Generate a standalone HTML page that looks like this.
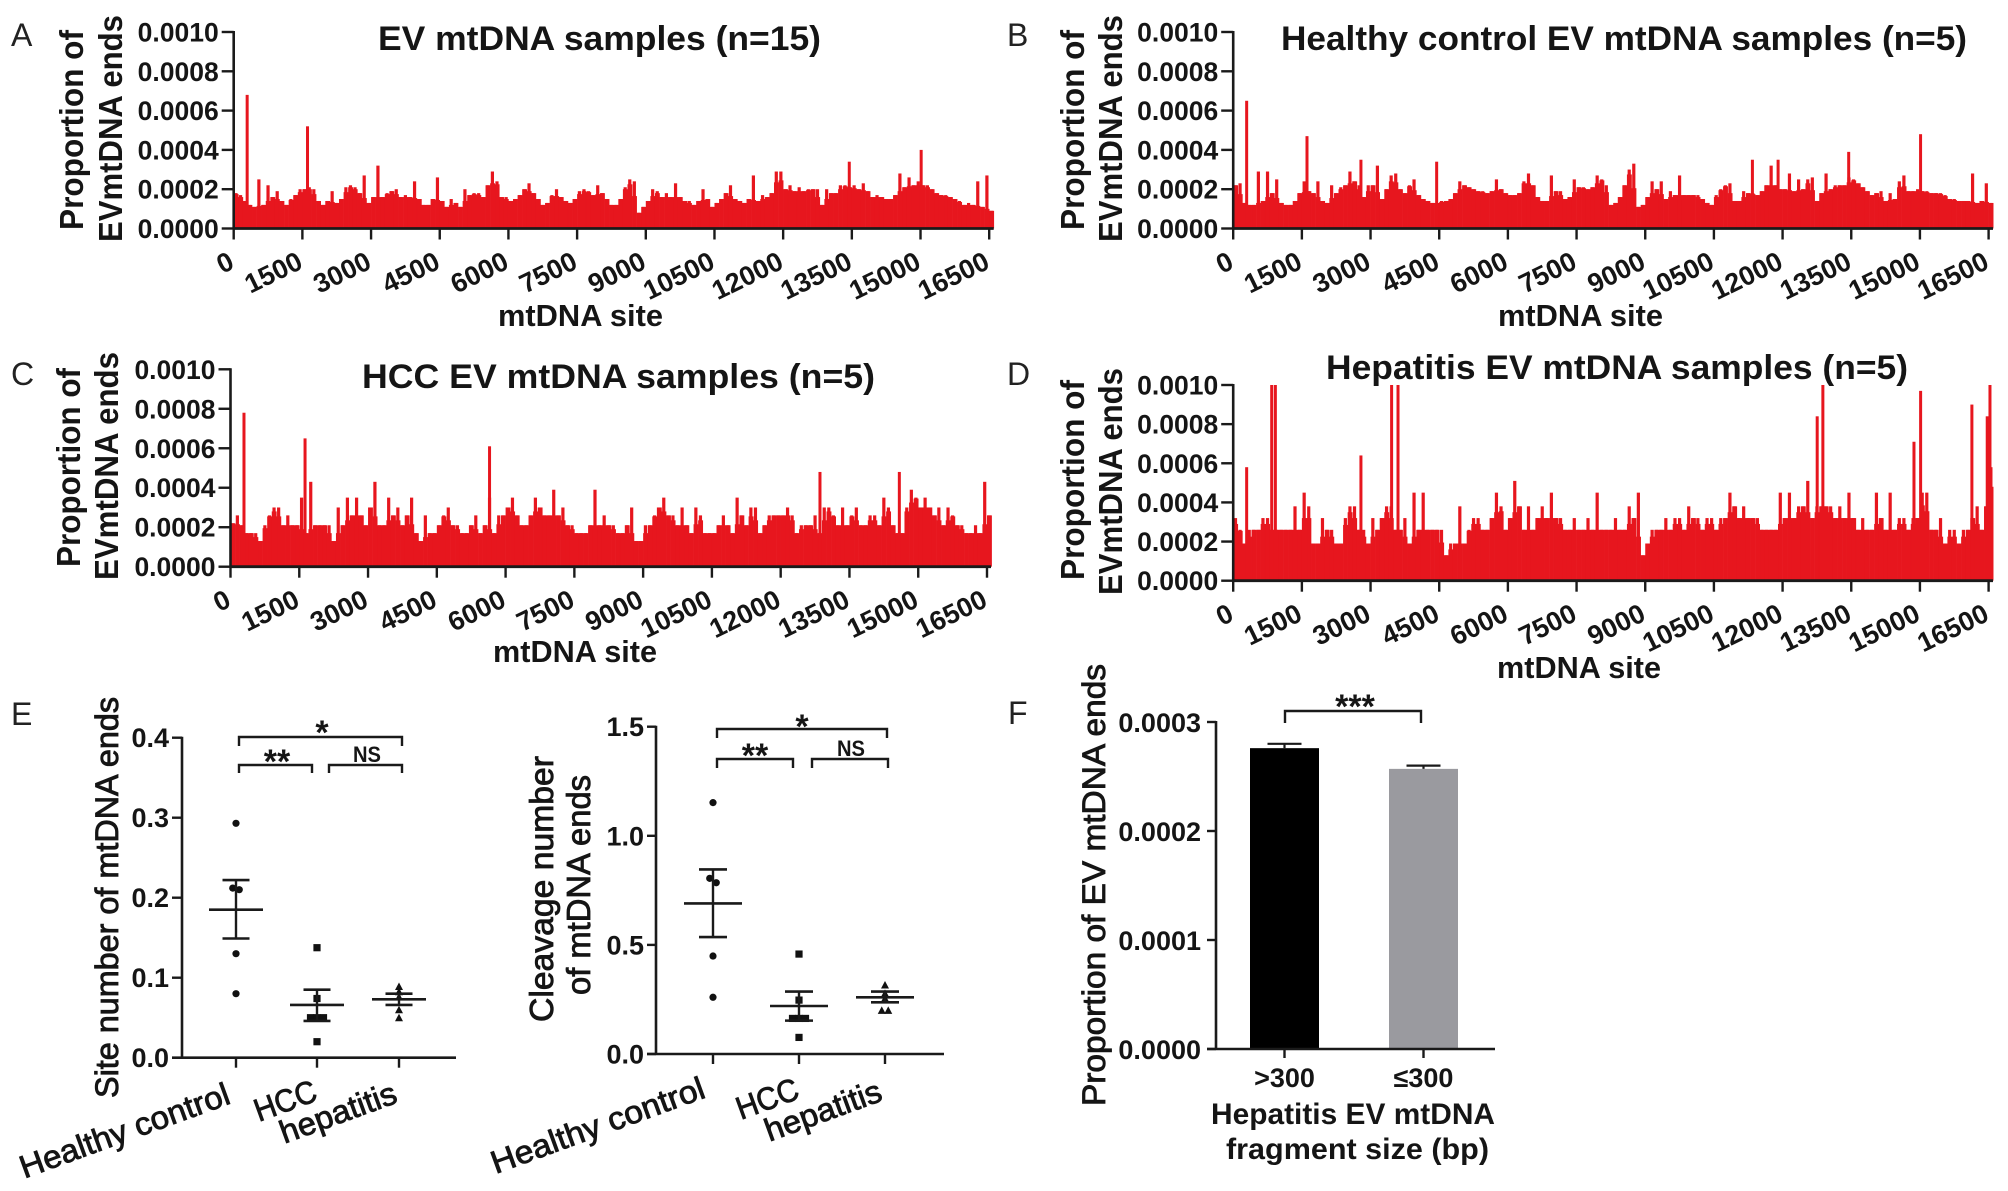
<!DOCTYPE html>
<html lang="en">
<head>
<meta charset="utf-8">
<title>EV mtDNA fragment end analysis</title>
<style>
html,body{margin:0;padding:0;background:#fff;}
svg{display:block;}
text{font-family:"Liberation Sans",sans-serif;fill:#151515;}
.b{font-weight:bold;}
.m{font-weight:normal;stroke:#151515;stroke-width:0.85px;}
.letter{font-size:32px;font-weight:normal;fill:#222;}
</style>
</head>
<body>
<svg id="figure" xmlns="http://www.w3.org/2000/svg" width="2008" height="1191" viewBox="0 0 2008 1191">
<rect x="0" y="0" width="2008" height="1191" fill="#fff"/>
<text class="letter" x="11" y="46">A</text>
<text class="letter" x="1007" y="46">B</text>
<text class="letter" x="11" y="385">C</text>
<text class="letter" x="1007" y="385">D</text>
<text class="letter" x="11" y="725">E</text>
<text class="letter" x="1008" y="724">F</text>

<text class="b" x="378" y="50" font-size="34" textLength="443" lengthAdjust="spacingAndGlyphs">EV mtDNA samples (n=15)</text>
<text class="b" x="1281" y="50" font-size="34" textLength="686" lengthAdjust="spacingAndGlyphs">Healthy control EV mtDNA samples (n=5)</text>
<text class="b" x="362" y="388" font-size="34" textLength="513" lengthAdjust="spacingAndGlyphs">HCC EV mtDNA samples (n=5)</text>
<text class="b" x="1326" y="379" font-size="34" textLength="582" lengthAdjust="spacingAndGlyphs">Hepatitis EV mtDNA samples (n=5)</text>

<text class="b" transform="translate(83,230) rotate(-90)" font-size="33" textLength="200" lengthAdjust="spacingAndGlyphs">Proportion of</text>
<text class="b" transform="translate(122,242) rotate(-90)" font-size="33" textLength="227" lengthAdjust="spacingAndGlyphs">EVmtDNA  ends</text>
<text class="b" transform="translate(1084,230) rotate(-90)" font-size="33" textLength="200" lengthAdjust="spacingAndGlyphs">Proportion of</text>
<text class="b" transform="translate(1122,242) rotate(-90)" font-size="33" textLength="227" lengthAdjust="spacingAndGlyphs">EVmtDNA  ends</text>
<text class="b" transform="translate(80,567) rotate(-90)" font-size="33" textLength="199" lengthAdjust="spacingAndGlyphs">Proportion of</text>
<text class="b" transform="translate(118,580) rotate(-90)" font-size="33" textLength="228" lengthAdjust="spacingAndGlyphs">EVmtDNA  ends</text>
<text class="b" transform="translate(1084,580) rotate(-90)" font-size="33" textLength="200" lengthAdjust="spacingAndGlyphs">Proportion of</text>
<text class="b" transform="translate(1122,595) rotate(-90)" font-size="33" textLength="227" lengthAdjust="spacingAndGlyphs">EVmtDNA  ends</text>

<text class="b" x="498" y="326" font-size="31" textLength="165" lengthAdjust="spacingAndGlyphs">mtDNA site</text>
<text class="b" x="1498" y="326" font-size="31" textLength="165" lengthAdjust="spacingAndGlyphs">mtDNA site</text>
<text class="b" x="493" y="662" font-size="31" textLength="164" lengthAdjust="spacingAndGlyphs">mtDNA site</text>
<text class="b" x="1497" y="678" font-size="31" textLength="164" lengthAdjust="spacingAndGlyphs">mtDNA site</text>

<text class="m" transform="translate(118,1098) rotate(-90)" font-size="32" textLength="401" lengthAdjust="spacingAndGlyphs">Site number of mtDNA ends</text>
<text class="m" transform="translate(553,1022) rotate(-90)" font-size="33" textLength="266" lengthAdjust="spacingAndGlyphs">Cleavage number</text>
<text class="m" transform="translate(590,995) rotate(-90)" font-size="33" textLength="220" lengthAdjust="spacingAndGlyphs">of mtDNA ends</text>
<text class="m" transform="translate(1105,1106) rotate(-90)" font-size="32" textLength="442" lengthAdjust="spacingAndGlyphs">Proportion of EV mtDNA ends</text>
<text class="b" x="1211" y="1124" font-size="30" textLength="284" lengthAdjust="spacingAndGlyphs">Hepatitis EV mtDNA</text>
<text class="b" x="1226" y="1159" font-size="30" textLength="263" lengthAdjust="spacingAndGlyphs">fragment size (bp)</text>

<g id="marks"></g>
</svg>

<script>
// ---------- site-profile data (values in units of 1e-5, one per 100 bp bin) ----------
const siteTickLabels = [0,1500,3000,4500,6000,7500,9000,10500,12000,13500,15000,16500];
const profileTickLabels = ["0.0000","0.0002","0.0004","0.0006","0.0008","0.0010"];
const profileTickValues = [0,20,40,60,80,100];

const binsA = [
18,17,14,12,11,25,12,22,16,19,
14,12,15,17,20,20,21,20,14,12,
14,19,13,15,21,22,21,18,27,13,
16,32,16,18,19,20,16,17,16,24,
15,12,12,15,26,14,11,15,13,11,
20,17,18,18,16,22,29,24,16,16,
14,15,17,20,23,18,15,12,13,17,
20,16,14,13,15,19,20,19,17,22,
18,15,12,12,15,21,25,24,8,11,
14,20,19,16,18,16,23,16,14,14,
12,14,20,15,11,13,15,18,22,15,
14,13,15,27,14,17,16,18,29,29,
20,22,19,21,19,20,20,20,12,20,
18,18,22,22,21,22,20,23,19,16,
17,16,15,15,17,28,21,26,22,24,
22,22,20,18,17,17,16,15,14,12,
13,12,24,11,27,9];
const spikeSitesA = [294,1612,13444,15014];
const spikeValuesA = [68,52,34,40];

const binsB = [
22,23,13,12,12,29,14,29,18,25,
13,12,12,14,18,24,19,18,24,14,
13,22,18,21,22,29,24,22,16,22,
22,32,15,20,27,28,20,18,22,25,
17,15,14,13,13,14,14,15,18,24,
22,21,20,19,19,18,19,25,20,18,
17,17,18,24,28,22,16,14,14,27,
19,19,15,16,25,21,21,20,21,27,
25,22,12,13,16,22,30,33,11,12,
16,24,20,24,15,19,17,27,17,17,
17,17,15,13,12,17,20,22,23,14,
14,19,18,18,17,19,22,32,22,20,
20,28,19,25,20,25,26,14,18,28,
20,22,22,22,26,25,23,21,19,17,
18,19,14,18,15,24,27,19,19,20,
19,19,18,18,18,17,15,15,14,14,
14,28,13,14,23,13];
const spikeSitesB = [294,1612,2790,4444,11341,11902,13444,15014];
const spikeValuesB = [65,47,35,34,35,35,39,48];

const binsC = [
22,26,21,17,17,17,13,21,26,30,
30,21,26,21,21,35,17,43,21,21,
21,21,13,30,21,35,26,35,26,21,
30,43,21,21,35,26,30,21,26,35,
17,13,26,17,17,21,26,30,21,21,
17,17,21,26,17,21,35,17,26,26,
30,35,26,21,21,26,35,30,26,26,
39,26,30,21,21,17,17,17,21,39,
21,26,21,21,17,17,21,30,13,13,
21,21,26,30,35,26,26,21,30,21,
17,30,26,17,17,17,21,26,21,17,
35,26,21,30,30,17,21,26,26,26,
26,30,26,17,21,21,21,26,17,30,
30,26,21,30,21,26,30,21,21,26,
26,21,35,30,21,17,17,30,39,35,
30,35,30,26,30,21,30,26,21,21,
17,17,21,17,43,26];
const spikeSitesC = [294,1626,5650,12857,14588];
const spikeValuesC = [78,65,61,48,48];

const binsD = [
32,26,19,26,26,26,32,32,26,26,
26,26,26,38,26,45,38,19,19,32,
26,26,19,19,32,38,38,26,26,19,
32,26,32,38,38,26,26,32,19,45,
26,45,26,26,26,26,13,19,19,38,
19,26,32,32,26,26,32,45,38,26,
32,51,38,26,38,26,32,38,32,45,
32,32,26,26,32,26,26,32,26,45,
26,26,26,32,26,26,38,32,45,13,
19,26,26,26,32,26,32,32,26,38,
32,32,26,32,32,26,32,32,45,38,
32,38,32,32,32,26,26,26,26,45,
32,45,32,38,38,51,32,38,38,38,
38,32,38,32,45,32,26,32,26,26,
45,32,26,45,26,32,32,26,32,32,
45,45,26,26,32,19,26,26,19,26,
26,32,38,26,38,58];
const spikeSitesD = [294,841,921,2790,3460,3600,12756,12880,14870,15015,16135,16470,16530];
const spikeValuesD = [58,100,100,64,100,100,84,100,71,97,90,84,100];

// ---------- panel E data ----------
const groupLabels = ["Healthy control","HCC","hepatitis"];
const sitesTickLabels = ["0.0","0.1","0.2","0.3","0.4"];
const sitesTickValues = [0,0.1,0.2,0.3,0.4];
const sitesHealthy = [0.293,0.212,0.21,0.13,0.08];
const sitesHCC = [0.1375,0.074,0.05,0.05,0.05,0.02];
const sitesHepatitis = [0.089,0.0825,0.076,0.06,0.05];
const sitesMeans = [0.185,0.066,0.073];
const sitesErrHigh = [0.222,0.085,0.08];
const sitesErrLow = [0.149,0.046,0.066];

const cleavageTickLabels = ["0.0","0.5","1.0","1.5"];
const cleavageTickValues = [0,0.5,1,1.5];
const cleavageHealthy = [1.152,0.805,0.785,0.449,0.26];
const cleavageHCC = [0.458,0.247,0.163,0.163,0.163,0.076];
const cleavageHepatitis = [0.316,0.278,0.255,0.2,0.2];
const cleavageMeans = [0.69,0.22,0.26];
const cleavageErrHigh = [0.846,0.286,0.286];
const cleavageErrLow = [0.536,0.153,0.237];

// ---------- panel F data ----------
const sizeLabels = [">300","≤300"];
const sizeMeans = [0.000276,0.000257];
const sizeErrHigh = [0.00028,0.00026];
const sizeTickLabels = ["0.0000","0.0001","0.0002","0.0003"];
const sizeTickValues = [0,0.0001,0.0002,0.0003];

// ---------- drawing ----------
const NS = "http://www.w3.org/2000/svg";
const root = document.getElementById("marks");
const RED = "#e7161e";
const INK = "#1a1a1a";

function make(tag, attrs, parent) {
  const node = document.createElementNS(NS, tag);
  for (const k in attrs) node.setAttribute(k, attrs[k]);
  (parent || root).appendChild(node);
  return node;
}
function line(x1, y1, x2, y2, w, parent) {
  return make("line", {x1: x1, y1: y1, x2: x2, y2: y2, stroke: INK, "stroke-width": w}, parent);
}

function drawProfile(id, bins, spikeSites, spikeValues, x0, x1, xEnd, yTop, yBase) {
  const g = make("g", {});
  
  
  const sx = function (site) { return x0 + site / 16500 * (x1 - x0); };
  const sy = function (v) { return yBase - Math.min(v, 100) / 100 * (yBase - yTop); };
  const binW = sx(100) - sx(0);

  bins.forEach(function (v, i) {
    const prev = i > 0 ? bins[i - 1] : v;
    const next = i < bins.length - 1 ? bins[i + 1] : v;
    const shoulder = Math.min(v, (prev + next) / 2);
    const base = make("rect", {x: sx(i * 100), y: sy(shoulder), width: binW + 0.3, height: yBase - sy(shoulder), fill: RED}, g);
    
    
    const bar = make("rect", {x: sx(i * 100) + (binW - 3.2) / 2, y: sy(v), width: 3.2, height: yBase - sy(v), fill: RED}, g);
    
    
  });
  spikeSites.forEach(function (site, i) {
    const v = spikeValues[i];
    const spike = make("rect", {x: sx(site) - 1.5, y: sy(v), width: 3, height: yBase - sy(v), fill: RED}, g);
    
    
  });

  const yAxis = line(x0, yTop - 1, x0, yBase + 1, 2.6, g);
  
  
  const xAxis = line(x0 - 1, yBase, xEnd, yBase, 2.8, g);
  
  

  profileTickValues.forEach(function (v, i) {
    const y = sy(v);
    const tick = line(x0 - 12, y, x0, y, 2.4, g);
    
    
    const t = make("text", {x: x0 - 15, y: y + 9.5, "text-anchor": "end", "font-size": 26.5, "font-weight": "bold"}, g);
    t.textContent = profileTickLabels[i];
    
    
  });
  siteTickLabels.forEach(function (site) {
    const x = sx(site);
    const tick = line(x, yBase, x, yBase + 11, 2.4, g);
    
    
    const t = make("text", {transform: "translate(" + (x + 2) + "," + (yBase + 39) + ") rotate(-26)", "text-anchor": "end", "font-size": 27, "font-weight": "bold"}, g);
    t.textContent = String(site);
    
    
  });
}

drawProfile("a", binsA, spikeSitesA, spikeValuesA, 233.7, 989.2, 993.7, 32, 228.5);
drawProfile("b", binsB, spikeSitesB, spikeValuesB, 1233.2, 1988.6, 1993, 32, 228.5);
drawProfile("c", binsC, spikeSitesC, spikeValuesC, 230.5, 987, 991, 369.3, 566.7);
drawProfile("d", binsD, spikeSitesD, spikeValuesD, 1233.2, 1988.6, 1993, 385, 580.7);

function bracket(x1, x2, yTop, yBottom, parent) {
  const p = make("path", {d: "M" + x1 + " " + yBottom + "V" + yTop + "H" + x2 + "V" + yBottom, fill: "none", stroke: INK, "stroke-width": 2.4}, parent);
  
  
}
function stars(text, x, base, parent) {
  const t = make("text", {x: x, y: base, "text-anchor": "middle", "font-size": 34, "font-weight": "bold"}, parent);
  t.textContent = text;
  
  
}
function nsLabel(x, base, parent) {
  const t = make("text", {x: x, y: base, "text-anchor": "middle", "font-size": 22, "font-weight": "bold", textLength: 28, lengthAdjust: "spacingAndGlyphs"}, parent);
  t.textContent = "NS";
  
  
}

function drawMarker(kind, x, y, parent) {
  let m;
  if (kind === 0) m = make("circle", {cx: x, cy: y, r: 3.6, fill: "#111"}, parent);
  else if (kind === 1) m = make("rect", {x: x - 3.6, y: y - 3.6, width: 7.2, height: 7.2, fill: "#111"}, parent);
  else m = make("path", {d: "M" + x + " " + (y - 4) + "l4 7.5h-8z", fill: "#111"}, parent);
  
  
}

function drawScatter(id, groups, means, errHigh, errLow, tickVals, tickLabs, axisX, xLeft, xRight, yTop, yBase, vMax, cats, labelAnchors, labelLengths, capW, meanW) {
  const g = make("g", {});
  
  
  const sy = function (v) { return yBase - v / vMax * (yBase - yTop); };

  const yAxis = line(axisX, yTop - 1, axisX, yBase + 1, 2.6, g);
  
  
  const xAxis = line(xLeft, yBase, xRight, yBase, 2.6, g);
  
  

  tickVals.forEach(function (v, i) {
    const tick = line(xLeft, sy(v), axisX, sy(v), 2.4, g);
    
    
    const t = make("text", {x: xLeft - 3, y: sy(v) + 9.5, "text-anchor": "end", "font-size": 27, "font-weight": "bold"}, g);
    t.textContent = tickLabs[i];
    
    
  });

  groups.forEach(function (vals, k) {
    const cx = cats[k];
    const tick = line(cx, yBase, cx, yBase + 10, 2.4, g);
    
    
    const a = labelAnchors[k];
    const lab = make("text", {transform: "translate(" + a[0] + "," + a[1] + ") rotate(-20)", "text-anchor": "end", "font-size": 32, stroke: "#151515", "stroke-width": 0.85, textLength: labelLengths[k], lengthAdjust: "spacingAndGlyphs"}, g);
    lab.textContent = groupLabels[k];
    
    

    // spread points that would overlap, beeswarm style
    let i = 0;
    while (i < vals.length) {
      let j = i + 1;
      while (j < vals.length && Math.abs(sy(vals[j]) - sy(vals[i])) < 5) j++;
      const n = j - i;
      for (let q = 0; q < n; q++) {
        drawMarker(k, cx + (q - (n - 1) / 2) * 6.5, sy(vals[i + q]), g);
      }
      i = j;
    }
    const stem = line(cx, sy(errLow[k]), cx, sy(errHigh[k]), 2.4, g);
    
    
    const hi = line(cx - capW, sy(errHigh[k]), cx + capW, sy(errHigh[k]), 2.6, g);
    
    
    const lo = line(cx - capW, sy(errLow[k]), cx + capW, sy(errLow[k]), 2.6, g);
    
    
    const mean = line(cx - meanW, sy(means[k]), cx + meanW, sy(means[k]), 2.6, g);
    
    
  });
  return g;
}

const g1 = drawScatter("site-number", [sitesHealthy, sitesHCC, sitesHepatitis], sitesMeans, sitesErrHigh, sitesErrLow,
  sitesTickValues, sitesTickLabels, 182, 172, 456, 737.7, 1057.7, 0.4, [236, 317, 399],
  [[232, 1103], [319, 1100], [399, 1102]], [221, 64, 122], 13.5, 27);
bracket(239, 402, 737, 746, g1);
bracket(239, 312, 765, 773, g1);
bracket(329, 402, 765, 773, g1);
stars("*", 322, 744, g1);
stars("**", 277, 773, g1);
nsLabel(367, 762, g1);

const g2 = drawScatter("cleavage-number", [cleavageHealthy, cleavageHCC, cleavageHepatitis], cleavageMeans, cleavageErrHigh, cleavageErrLow,
  cleavageTickValues, cleavageTickLabels, 656, 647, 944, 726.7, 1054, 1.5, [713, 799, 885],
  [[707, 1097], [801, 1098], [884, 1100]], [225, 64, 122], 14, 29);
bracket(717, 887, 729, 738, g2);
bracket(717, 793, 759, 768, g2);
bracket(812, 888, 759, 768, g2);
stars("*", 802, 738, g2);
stars("**", 755, 767, g2);
nsLabel(851, 756, g2);

(function drawSizeBars() {
  const g = make("g", {});
  
  
  const yTop = 722, yBase = 1049, vMax = 0.0003, axisX = 1216;
  const sy = function (v) { return yBase - v / vMax * (yBase - yTop); };
  const centers = [1284.5, 1423.5];
  const fills = ["#000000", "#9a9a9f"];
  const halfWidth = 34.5;

  sizeLabels.forEach(function (lab, i) {
    const bar = make("rect", {x: centers[i] - halfWidth, y: sy(sizeMeans[i]), width: halfWidth * 2, height: yBase - sy(sizeMeans[i]), fill: fills[i]}, g);
    
    
    const stem = line(centers[i], sy(sizeErrHigh[i]), centers[i], sy(sizeMeans[i]), 2.2, g);
    
    
    const cap = line(centers[i] - 17, sy(sizeErrHigh[i]), centers[i] + 17, sy(sizeErrHigh[i]), 2.2, g);
    
    
    const tick = line(centers[i], yBase, centers[i], yBase + 9, 2.4, g);
    
    
    const t = make("text", {x: centers[i], y: 1087, "text-anchor": "middle", "font-size": 27, "font-weight": "bold"}, g);
    t.textContent = lab;
    
    
  });

  const yAxis = line(axisX, yTop - 1, axisX, yBase + 1, 2.6, g);
  
  
  const xAxis = line(1207, yBase, 1495, yBase, 2.6, g);
  
  

  sizeTickValues.forEach(function (v, i) {
    const tick = line(1207, sy(v), axisX, sy(v), 2.4, g);
    
    
    const t = make("text", {x: 1201, y: sy(v) + 10, "text-anchor": "end", "font-size": 27, "font-weight": "bold"}, g);
    t.textContent = sizeTickLabels[i];
    
    
  });

  bracket(1285, 1421, 711, 723, g);
  stars("***", 1355, 718, g);
})();
</script>
</body>
</html>
